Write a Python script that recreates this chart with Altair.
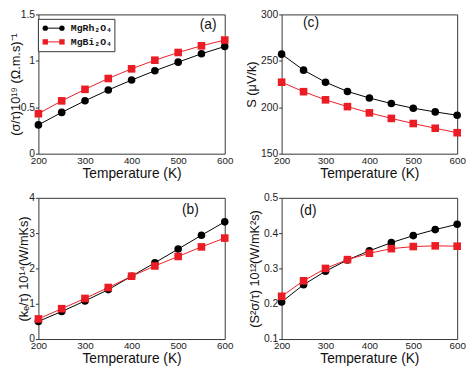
import altair as alt
import pandas as pd

temps = [200, 250, 300, 350, 400, 450, 500, 550, 600]
series = ["MgRh₂O₄", "MgBi₂O₄"]

# (a) sigma/tau x 1e19
sigma_rh = [0.31, 0.445, 0.57, 0.686, 0.793, 0.893, 0.986, 1.076, 1.155]
sigma_bi = [0.431, 0.569, 0.693, 0.81, 0.914, 1.007, 1.09, 1.162, 1.224]
# (b) ke/tau x 1e14
ke_rh = [0.50, 0.78, 1.08, 1.40, 1.78, 2.16, 2.55, 2.94, 3.32]
ke_bi = [0.57, 0.86, 1.15, 1.46, 1.78, 2.07, 2.34, 2.61, 2.86]
# (c) Seebeck uV/K
s_rh = [257.2, 240.0, 227.0, 217.0, 210.0, 204.0, 199.0, 195.0, 191.4]
s_bi = [227.0, 216.8, 208.0, 200.7, 194.0, 188.0, 182.5, 177.4, 172.6]
# (d) power factor x 1e12
pf_rh = [0.205, 0.254, 0.292, 0.324, 0.350, 0.373, 0.393, 0.410, 0.425]
pf_bi = [0.221, 0.265, 0.300, 0.325, 0.343, 0.356, 0.362, 0.364, 0.363]

x_ticks = [200, 300, 400, 500, 600]
ticks_a = [0, 0.5, 1, 1.5]
ticks_b = [0, 1, 2, 3, 4]
ticks_c = [150, 200, 250, 300]
ticks_d = [0.1, 0.2, 0.3, 0.4, 0.5]

BLACK = "#000000"
RED = "#ec1c24"
FRAME = "#333333"


def long_df(rh, bi):
    return pd.DataFrame({
        "T": temps * 2,
        "v": rh + bi,
        "s": [series[0]] * len(temps) + [series[1]] * len(temps),
    })


def panel(rh, bi, ytitle, yticks, yfmt, tag, tag_x, tag_y, w, h,
          title_pad, red_shape="square", legend=False):
    df = long_df(rh, bi)
    base = alt.Chart(df).encode(
        x=alt.X("T:Q", scale=alt.Scale(domain=[200, 600], nice=False),
                axis=alt.Axis(values=x_ticks, title="Temperature (K)",
                              tickCount=len(x_ticks))),
        y=alt.Y("v:Q",
                scale=alt.Scale(domain=[yticks[0], yticks[-1]], nice=False,
                                zero=False),
                axis=alt.Axis(tickCount=len(yticks), title=ytitle, format=yfmt,
                              titlePadding=title_pad, labelOverlap=False)),
        color=alt.Color("s:N", scale=alt.Scale(domain=series, range=[BLACK, RED]),
                        legend=None),
    )
    line = base.mark_line(strokeWidth=1)
    pts = base.mark_point(filled=True, size=60, opacity=1).encode(
        shape=alt.Shape("s:N", scale=alt.Scale(domain=series,
                                                range=["circle", red_shape]),
                        legend=None)
    )
    tag_df = pd.DataFrame({"t": [tag]})
    label = alt.Chart(tag_df).mark_text(
        font="Liberation Sans", fontSize=14, color="#111111",
        align="center", baseline="middle"
    ).encode(x=alt.value(tag_x), y=alt.value(tag_y), text="t:N")
    layers = [line, pts, label]
    if legend:
        box_df = pd.DataFrame({"k": [0]})
        box = alt.Chart(box_df).mark_rect(
            fill="white", stroke=FRAME, strokeWidth=1
        ).encode(x=alt.value(0), x2=alt.value(78), y=alt.value(5), y2=alt.value(38))
        layers.append(box)
        rows = [(series[0], BLACK, "circle", 14), (series[1], RED, "square", 28)]
        for name, col, shp, yy in rows:
            one = pd.DataFrame({"s": [name]})
            rule = alt.Chart(one).mark_rule(color=col, strokeWidth=1).encode(
                x=alt.value(7), x2=alt.value(24), y=alt.value(yy))
            p1 = alt.Chart(one).mark_point(filled=True, size=30, opacity=1,
                                           color=col, shape=shp).encode(
                x=alt.value(7), y=alt.value(yy))
            p2 = alt.Chart(one).mark_point(filled=True, size=30, opacity=1,
                                           color=col, shape=shp).encode(
                x=alt.value(24), y=alt.value(yy))
            txt = alt.Chart(one).mark_text(
                font="Liberation Mono", fontWeight="bold", fontSize=10,
                align="left", baseline="middle", color="#111111"
            ).encode(x=alt.value(33), y=alt.value(yy), text="s:N")
            layers += [rule, p1, p2, txt]
    return alt.layer(*layers).properties(width=w, height=h)


pa = panel(sigma_rh, sigma_bi, "(σ/τ)10¹⁹ (Ω.m.s)⁻¹", ticks_a, "~g",
           "(a)", 173, 11, 190, 142, -2, legend=True)
pc = panel(s_rh, s_bi, "S (μV/k)", ticks_c, "d",
           "(c)", 30, 9, 179, 142, 2)
pb = panel(ke_rh, ke_bi, "(kₑ/τ) 10¹⁴(W/mKs)", ticks_b, "~g",
           "(b)", 155, 13, 190, 144, -2)
pd_ = panel(pf_rh, pf_bi, "(S²σ/τ) 10¹²(W/mK²s)", ticks_d, "~g",
            "(d)", 27, 14, 179, 144, 2, red_shape="circle")

chart = alt.concat(pa, pc, pb, pd_, columns=2,
                   spacing={"row": 45, "column": 58}, bounds="flush").properties(
    padding={"left": 0, "top": -3, "right": 0, "bottom": 0}
).configure_view(
    stroke=FRAME, strokeWidth=1
).configure_axis(
    domain=False, grid=False,
    labelFont="Liberation Sans", titleFont="Liberation Sans",
    labelColor="#222222", titleColor="#111111", titleFontWeight="normal",
    labelFlush=False, labelOverlap=False,
).configure_axisX(
    ticks=False,
    labelFontSize=10, labelPadding=2, titleFontSize=14, titlePadding=1,
).configure_axisY(
    ticks=True, tickSize=3, tickColor=FRAME,
    labelFontSize=10.5, labelPadding=1, titleFontSize=13,
)

chart.save("out.html", embed_options={"renderer": "svg", "actions": False})
